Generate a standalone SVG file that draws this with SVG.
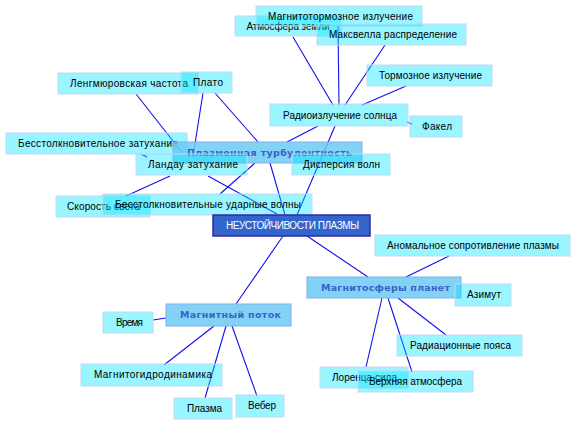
<svg xmlns="http://www.w3.org/2000/svg" width="576" height="425" viewBox="0 0 576 425">
<style>
.c rect{fill:#00e5ff;fill-opacity:0.4;stroke:#c4d8f4;stroke-width:1}
.c text{font-family:"Liberation Sans",Arial,sans-serif;font-size:10px;fill:#000}
.h rect{fill:#6ccaf5;fill-opacity:0.85;stroke:#86aeea;stroke-width:1}
.h text{font-family:"DejaVu Sans","Liberation Sans",sans-serif;font-size:9.5px;font-weight:bold;fill:#3a62c8}
.m rect{fill:#3366cc;stroke:#3328a0;stroke-width:1.5}
.m text{font-family:"Liberation Sans",Arial,sans-serif;font-size:10px;fill:#fff}
#links line{stroke:#1010f0;stroke-width:1.1}
</style>
<rect width="576" height="425" fill="#fff"/>
<g id="links">
<line x1="293" y1="37" x2="333" y2="105"/>
<line x1="338" y1="26" x2="339" y2="105"/>
<line x1="385" y1="45" x2="345" y2="105"/>
<line x1="406" y1="86" x2="362" y2="105"/>
<line x1="407" y1="122" x2="412" y2="124"/>
<line x1="318" y1="126" x2="287" y2="142"/>
<line x1="335" y1="126" x2="297" y2="215"/>
<line x1="136" y1="94" x2="184" y2="155"/>
<line x1="203" y1="93" x2="194" y2="150"/>
<line x1="215" y1="93" x2="258" y2="142"/>
<line x1="141" y1="154" x2="147" y2="157"/>
<line x1="170" y1="176" x2="126" y2="196"/>
<line x1="208" y1="176" x2="277" y2="214"/>
<line x1="255" y1="163" x2="220" y2="194"/>
<line x1="270" y1="163" x2="285" y2="215"/>
<line x1="283" y1="236" x2="236" y2="304"/>
<line x1="307" y1="236" x2="368" y2="277"/>
<line x1="449" y1="256" x2="406" y2="277"/>
<line x1="398" y1="298" x2="446" y2="335"/>
<line x1="382" y1="298" x2="366" y2="367"/>
<line x1="388" y1="298" x2="412" y2="372"/>
<line x1="153" y1="320" x2="166" y2="318"/>
<line x1="214" y1="326" x2="164" y2="365"/>
<line x1="226" y1="326" x2="205" y2="398"/>
<line x1="232" y1="326" x2="257" y2="396"/>
</g>
<g id="atm" class="c"><rect x="235" y="16" width="106" height="20"/><text x="246.5" y="29.5" textLength="83">Атмосфера земли</text></g>
<g id="magntorm" class="c"><rect x="256" y="6" width="166" height="20"/><text x="268" y="19.5" textLength="145">Магнитотормозное излучение</text></g>
<g id="maxwell" class="c"><rect x="317" y="24" width="149" height="21"/><text x="329" y="38" textLength="128">Максвелла распределение</text></g>
<g id="tormoz" class="c"><rect x="367" y="65" width="125" height="21"/><text x="379" y="79" textLength="103">Тормозное излучение</text></g>
<g id="radio" class="c"><rect x="270" y="104" width="138" height="22"/><text x="283" y="118.5" textLength="114">Радиоизлучение солнца</text></g>
<g id="fakel" class="c"><rect x="410" y="116" width="52" height="21"/><text x="422" y="130" textLength="30">Факел</text></g>
<g id="lengmuir" class="c"><rect x="58" y="73" width="140" height="21"/><text x="70" y="87" textLength="118">Ленгмюровская частота</text></g>
<g id="plato" class="c"><rect x="181" y="72" width="51" height="21"/><text x="193" y="86" textLength="30">Плато</text></g>
<g id="bzatuh" class="c"><rect x="6" y="133" width="181" height="21"/><text x="18" y="147" textLength="160">Бесстолкновительное затухание</text></g>
<g id="plturb" class="h"><rect x="173" y="142" width="189" height="21"/><text x="187" y="156" textLength="165">Плазменная турбулентность</text></g>
<g id="landau" class="c"><rect x="136" y="154" width="111" height="21"/><text x="148" y="168" textLength="90">Ландау затухание</text></g>
<g id="disp" class="c"><rect x="292" y="154" width="98" height="21"/><text x="303" y="168" textLength="77">Дисперсия волн</text></g>
<g id="skorost" class="c"><rect x="56" y="196" width="94" height="21"/><text x="67" y="210" textLength="73">Скорость света</text></g>
<g id="budar" class="c"><rect x="103" y="194" width="209" height="21"/><text x="115" y="208" textLength="186">Бесстолкновительные ударные волны</text></g>
<g id="central" class="m"><rect x="213" y="215" width="157" height="21"/><text x="226" y="229" textLength="133">НЕУСТОЙЧИВОСТИ ПЛАЗМЫ</text></g>
<g id="anomal" class="c"><rect x="375" y="235" width="195" height="21"/><text x="387" y="249" textLength="172">Аномальное сопротивление плазмы</text></g>
<g id="magsf" class="h"><rect x="307" y="277" width="154" height="21"/><text x="321" y="291" textLength="129">Магнитосферы планет</text></g>
<g id="azimut" class="c"><rect x="455" y="284" width="56" height="22"/><text x="467" y="298" textLength="34">Азимут</text></g>
<g id="radpoyas" class="c"><rect x="397" y="335" width="125" height="21"/><text x="410" y="349" textLength="101">Радиационные пояса</text></g>
<g id="lorenz" class="c"><rect x="320" y="367" width="88" height="21"/><text x="332" y="381" textLength="65">Лоренца сила</text></g>
<g id="verhatm" class="c"><rect x="358" y="371" width="115" height="21"/><text x="369" y="385" textLength="93">Верхняя атмосфера</text></g>
<g id="magpot" class="h"><rect x="166" y="304" width="125" height="22"/><text x="180" y="318" textLength="101">Магнитный поток</text></g>
<g id="vremya" class="c"><rect x="103" y="312" width="50" height="21"/><text x="116" y="326" textLength="27">Время</text></g>
<g id="mgd" class="c"><rect x="81" y="364" width="141" height="22"/><text x="94" y="378" textLength="118">Магнитогидродинамика</text></g>
<g id="plazma" class="c"><rect x="174" y="398" width="58" height="21"/><text x="187" y="412" textLength="35">Плазма</text></g>
<g id="veber" class="c"><rect x="236" y="395" width="48" height="22"/><text x="248" y="409" textLength="28">Вебер</text></g>
</svg>
